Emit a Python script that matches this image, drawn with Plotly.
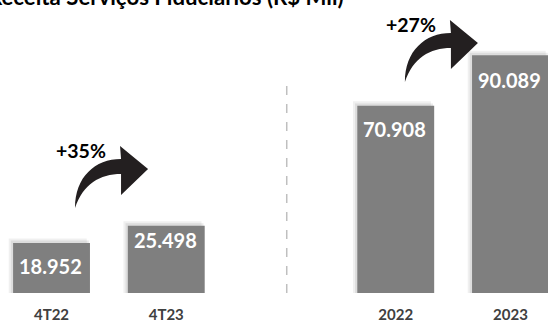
import plotly.graph_objects as go

# ---- data ----
categories = ["4T22", "4T23", "2022", "2023"]
positions = [0, 1, 3, 4]
values = [18.952, 25.498, 70.908, 90.089]
value_labels = ["18.952", "25.498", "70.908", "90.089"]
growth_labels = ["+35%", "+27%"]
title_text = "Receita Serviços Fiduciários (R$ Mil)"

# ---- layout constants ----
W, H = 548, 325
MB = 32
XR = [-0.449, 4.327]
YR = [0, 111]
PX_X = W / (XR[1] - XR[0])
PX_Y = (H - MB) / (YR[1] - YR[0])
FONT = "Lato, 'Open Sans', sans-serif"
BAR_COLOR = "#7f7f7f"
BAR_W = 0.67

fig = go.Figure()

# soft shadow layers (top-left)
for dv, off, alpha in [(1.7, -0.038, 0.06), (0.9, -0.02, 0.08)]:
    fig.add_trace(go.Bar(
        x=positions, y=[v + dv for v in values], width=BAR_W + 0.01,
        offset=-BAR_W / 2 + off,
        marker=dict(color=f"rgba(0,0,0,{alpha})", line=dict(width=0)),
        hoverinfo="skip", showlegend=False))

fig.add_trace(go.Bar(
    x=positions, y=values, width=BAR_W,
    marker=dict(color=BAR_COLOR, line=dict(width=0)),
    showlegend=False))

# value labels inside bars
label_shift = [-23, -14, -23, -25]
for p, v, t, s in zip(positions, values, value_labels, label_shift):
    fig.add_annotation(x=p, y=v, text=f"<b>{t}</b>", showarrow=False,
                       yshift=s, xshift=-1,
                       font=dict(family=FONT, size=20, color="white"))

# curved growth arrows
def arrow_path(ux, vy):
    pts = {
        "t": (0, 0), "c1": (0, -31), "c2": (20, -49), "ub": (46, -49),
        "uc": (45, -62), "tip": (73, -39), "lc": (46, -13), "lb": (46, -34),
        "c3": (25, -34), "c4": (8, -24),
    }
    def P(k):
        dx, dy = pts[k]
        return f"{ux + dx / PX_X:.5f},{vy - dy / PX_Y:.5f}"
    return (f"M {P('t')} C {P('c1')} {P('c2')} {P('ub')} L {P('uc')} L {P('tip')} "
            f"L {P('lc')} L {P('lb')} C {P('c3')} {P('c4')} {P('t')} Z")

arrow_anchors = [(0.205, 32.2), (3.08, 79.9)]
for (ux, vy), g in zip(arrow_anchors, growth_labels):
    fig.add_shape(type="path", path=arrow_path(ux, vy), xref="x", yref="y",
                  fillcolor="#231f20", line=dict(width=0), layer="above")
    fig.add_annotation(x=ux + 6 / PX_X, y=vy + 57.5 / PX_Y, text=f"<b>{g}</b>",
                       showarrow=False,
                       font=dict(family=FONT, size=19.5, color="black"))

# dashed separator
fig.add_shape(type="line", x0=2.05, x1=2.05, y0=0, y1=79.5, xref="x", yref="y",
              line=dict(color="#bfbfbf", width=1.5, dash="dash"))

# title (cut at top-left like the reference)
fig.add_annotation(xref="paper", yref="paper", x=-14.5 / W, y=1 + 4 / (H - MB),
                   xanchor="left", yanchor="middle", showarrow=False,
                   text=f"<b>{title_text}</b>",
                   font=dict(family=FONT, size=22.2, color="black"))

fig.update_layout(
    width=W, height=H,
    margin=dict(l=0, r=0, t=0, b=MB),
    plot_bgcolor="white", paper_bgcolor="white",
    barmode="overlay",
    xaxis=dict(range=XR, tickvals=positions, ticktext=[f"<b>{c}</b>" for c in categories],
               showgrid=False, zeroline=False, showline=False,
               ticks="outside", ticklen=8, tickcolor="rgba(0,0,0,0)",
               tickfont=dict(family=FONT, size=15, color="#404040")),
    yaxis=dict(range=YR, visible=False, showgrid=False, zeroline=False),
)

fig.write_html("out.html", config={"displayModeBar": False},
               post_script="document.body.style.margin='0';document.body.style.overflow='hidden';")
